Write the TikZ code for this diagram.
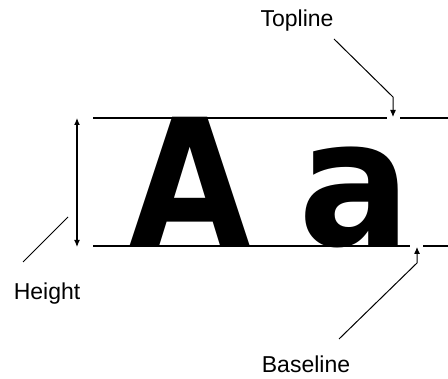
\documentclass[tikz,border=0pt]{standalone}
\usepackage{fontspec}
\setmainfont{Liberation Sans}
\newfontfamily\glyphfont{DejaVu Sans}
\usetikzlibrary{arrows.meta}

\begin{document}
\begin{tikzpicture}[x=1pt, y=-1pt,
  guide/.style={draw, line width=1.2pt},
  leader/.style={draw, line width=1pt},
  pointer/.style={draw, line width=1pt, -{Latex[length=7pt,width=6pt]}},
  lbl/.style={font=\fontsize{23}{23}\selectfont, inner sep=0pt, anchor=base},
  letter/.style={font=\glyphfont\bfseries\fontsize{176}{176}\selectfont,
                 inner sep=0pt, anchor=base}
]
  \useasboundingbox (0,0) rectangle (448,379);

  % big sample letters
  \node[letter] (capA)   at (190,246) {\scalebox{0.89}[1]{A}};
  \node[letter] (smallA) at (355,246) {\scalebox{0.95}[1]{a}};

  % top and base guides, broken where the pointers meet them
  \coordinate (tlL) at (93,118);  \coordinate (tlA) at (387,118);
  \coordinate (tlB) at (400,118); \coordinate (tlR) at (448,118);
  \coordinate (blL) at (93,246);  \coordinate (blA) at (410,246);
  \coordinate (blB) at (423,246); \coordinate (blR) at (448,246);
  \draw[guide] (tlL) -- (tlA) (tlB) -- (tlR);
  \draw[guide] (blL) -- (blA) (blB) -- (blR);

  % labels
  \node[lbl] (topline)  at (297,27)  {Topline};
  \node[lbl] (height)   at (47,300)  {Height};
  \node[lbl] (baseline) at (306,373) {Baseline};

  % height dimension
  \coordinate (hT) at (77,118);
  \coordinate (hB) at (77,247);
  \draw[line width=1.2pt, {Latex[length=7pt,width=6pt]}-{Latex[length=7pt,width=6pt]}] (hT) -- (hB);
  \coordinate (hS) at (23,262);
  \coordinate (hE) at (68,217);
  \draw[leader] (hS) -- (hE);

  % topline pointer
  \coordinate (tpS) at (334,39);
  \coordinate (tpK) at (393,97);
  \coordinate (tpE) at (393,117);
  \draw[pointer] (tpS) -- (tpK) -- (tpE);

  % baseline pointer
  \coordinate (bpS) at (339,339);
  \coordinate (bpK) at (417,263);
  \coordinate (bpE) at (417,247);
  \draw[pointer] (bpS) -- (bpK) -- (bpE);
\end{tikzpicture}
\end{document}
